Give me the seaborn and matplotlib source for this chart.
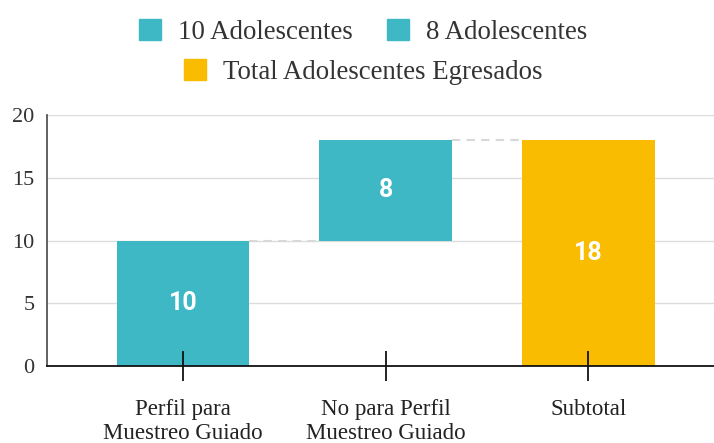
import matplotlib
matplotlib.use("Agg")
import matplotlib.pyplot as plt
import matplotlib.patches as mpatches
import seaborn as sns
import pandas as pd

categories = ["Perfil para\nMuestreo Guiado", "No para Perfil\nMuestreo Guiado", "Subtotal"]
steps = [10, 8, 18]
bases = [0, 10, 0]
bar_colors = ["#3db8c4", "#3db8c4", "#f9bc00"]
legend_labels = ["10 Adolescentes", "8 Adolescentes", "Total Adolescentes Egresados"]
y_ticks = [0, 5, 10, 15, 20]

sns.set_theme(style="white")
plt.rcParams["font.family"] = ["Liberation Serif", "DejaVu Serif"]

df = pd.DataFrame({"category": categories, "step": steps, "base": bases})

fig = plt.figure(figsize=(7.14, 4.43), dpi=100)
ax = fig.add_axes([0.066, 0.174, 0.934, 0.566])

sns.barplot(data=df, x="category", y="step", bottom=df["base"].to_numpy(),
            color=bar_colors[0], saturation=1, width=0.655, ax=ax, zorder=1)
for patch, col in zip(ax.patches, bar_colors):
    patch.set_facecolor(col)
    patch.set_edgecolor("none")

# value labels in the middle of each bar
for i, (s, b) in enumerate(zip(steps, bases)):
    ax.text(i, b + s / 2, str(s), ha="center", va="center", color="white",
            fontsize=18, fontweight="bold", family=["Roboto", "DejaVu Sans"], zorder=4)

# dashed connectors between bars
tops = [b + s for s, b in zip(steps, bases)]
half = 0.655 / 2
for i in range(len(steps) - 1):
    ax.plot([i + half, i + 1 - half], [tops[i], tops[i]], ls=(0, (4, 3)),
            color="#d8d8d8", lw=1.5, zorder=2)

ax.set_ylim(0, 20)
ax.set_xlim(-0.67, 2.62)
ax.set_yticks(y_ticks)
# gridlines under the bars, ticks on top of them
for yv in y_ticks[1:]:
    ax.axhline(yv, color="#dcdcdc", lw=1, zorder=0)
ax.grid(False)
ax.set_axisbelow(False)
ax.set_xlabel("")
ax.set_ylabel("")

for side in ["top", "right"]:
    ax.spines[side].set_visible(False)
ax.spines["left"].set_color("#555555")
ax.spines["left"].set_linewidth(1.3)
ax.spines["bottom"].set_color("#111111")
ax.spines["bottom"].set_linewidth(1.3)

ax.tick_params(axis="x", direction="inout", length=22, width=1.3, color="#111111",
               labelsize=16.5, pad=13, bottom=True)
ax.tick_params(axis="y", length=0, labelsize=16, pad=9, colors="#333333")
for lbl in ax.get_xticklabels():
    lbl.set_color("#222222")

h1 = mpatches.Patch(color=bar_colors[0], label=legend_labels[0])
h2 = mpatches.Patch(color=bar_colors[1], label=legend_labels[1])
h3 = mpatches.Patch(color=bar_colors[2], label=legend_labels[2])
leg_kw = dict(loc="center", frameon=False, fontsize=19.4, handlelength=0.82,
              handleheight=0.82, handletextpad=0.63, labelcolor="#333333")
fig.legend(handles=[h1, h2], bbox_to_anchor=(0.509, 0.928), ncol=2,
           columnspacing=1.26, **leg_kw)
fig.legend(handles=[h3], bbox_to_anchor=(0.509, 0.837), **leg_kw)

fig.savefig("out.png", dpi=100)
